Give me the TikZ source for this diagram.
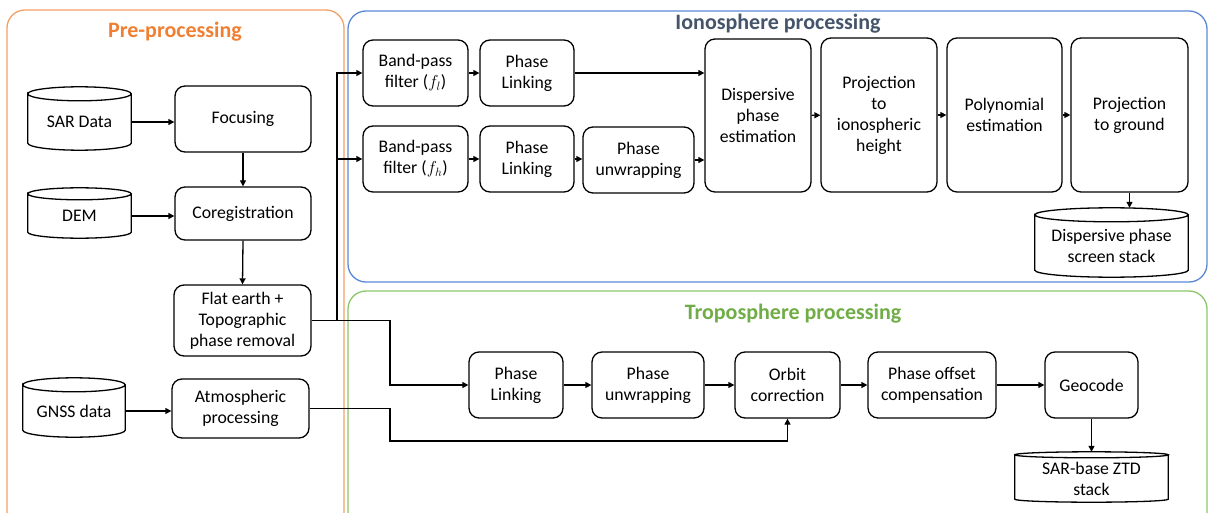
\documentclass[tikz,border=0pt]{standalone}
\usepackage{fontspec}
\setmainfont{Carlito}
\usetikzlibrary{arrows.meta,calc}

\definecolor{preorange}{HTML}{F07F34}
\definecolor{preborder}{HTML}{F4A066}
\definecolor{ionotitle}{HTML}{44546A}
\definecolor{ionoborder}{HTML}{5B88D4}
\definecolor{tropotitle}{HTML}{70AD47}
\definecolor{tropoborder}{HTML}{8CC66C}

% cylinder outline around a node whose north anchor is the centre of the top ellipse
\newcommand\drum[2]{%
  \draw[drumline] let \p1=(#1.north west), \p2=(#1.south east), \n1={(\x2-\x1)/2} in
    (\x1,\y1) arc[start angle=180, end angle=-180, x radius=\n1, y radius=#2pt]
    -- (\x1,\y2+#2pt) arc[start angle=180, end angle=360, x radius=\n1, y radius=#2pt]
    -- (\x2,\y1);}

\begin{document}
\begin{tikzpicture}[x=1pt,y=-1pt,
  txt/.style={font=\fontsize{17.7}{21}\selectfont, align=center},
  box/.style={txt, draw, line width=1.3pt, rounded corners=10pt, inner sep=2pt},
  drumtext/.style={txt, inner sep=0pt},
  drumline/.style={line width=1.3pt},
  arr/.style={line width=1.3pt, -{Triangle[length=6pt,width=6pt]}},
  group/.style={line width=1.3pt, rounded corners=18pt},
  title/.style={font=\fontsize{22}{26}\selectfont\bfseries}]

\useasboundingbox (0,0) rectangle (1209,513);

% ---- group frames ----
\begin{scope}
  \clip (0,0) rectangle (1209,513);
  \draw[group, preborder] (7,10) rectangle (344,530);
  \draw[group, ionoborder] (348,11) rectangle (1207,282);
  \draw[group, tropoborder] (348,291) rectangle (1207,530);
\end{scope}

\node[title, text=preorange] (tpre) at (175,32) {Pre-processing};
\node[title, text=ionotitle] (tiono) at (778,24) {Ionosphere processing};
\node[title, text=tropotitle] (ttropo) at (793,314) {Troposphere processing};

% ---- pre-processing ----
\node[drumtext, minimum width=103pt, minimum height=56pt] (sar) at (79.5,122) {SAR Data};
\drum{sar}{7}
\node[drumtext, minimum width=103pt, minimum height=44pt] (dem) at (79.5,216) {DEM};
\drum{dem}{6}
\node[drumtext, minimum width=102pt, minimum height=52pt] (gnss) at (74,411) {GNSS data};
\drum{gnss}{7}

\node[box, minimum width=136pt, minimum height=66pt] (focus) at (243,119) {Focusing};
\node[box, minimum width=136pt, minimum height=53pt] (coreg) at (243,213.5) {Coregistration};
\node[box, minimum width=137pt, minimum height=71pt] (flat) at (242.5,320.5) {Flat earth +\\Topographic\\phase removal};
\node[box, minimum width=137pt, minimum height=59pt] (atmo) at (240.5,408.5) {Atmospheric\\processing};

% ---- ionosphere ----
\node[box, minimum width=105pt, minimum height=66pt] (bpl) at (415.5,73) {Band-pass\\filter ($f_l$)};
\node[box, minimum width=94pt, minimum height=66pt] (ipl1) at (527,73) {Phase\\Linking};
\node[box, minimum width=105pt, minimum height=66pt] (bph) at (415.5,159) {Band-pass\\filter ($f_h$)};
\node[box, minimum width=94pt, minimum height=66pt] (ipl2) at (527,159) {Phase\\Linking};
\node[box, minimum width=111pt, minimum height=66pt] (unw) at (638.5,160) {Phase\\unwrapping};
\node[box, minimum width=106pt, minimum height=153pt] (dpe) at (758,115.5) {Dispersive\\phase\\estimation};
\node[box, minimum width=116pt, minimum height=154pt] (proj) at (879,115) {Projection\\to\\ionospheric\\height};
\node[box, minimum width=115pt, minimum height=154pt] (poly) at (1004.5,115) {Polynomial\\estimation};
\node[box, minimum width=117pt, minimum height=154pt] (pg) at (1129.5,115) {Projection\\to ground};
\node[drumtext, minimum width=153pt, minimum height=62pt] (stack) at (1111.5,246) {Dispersive phase\\screen stack};
\drum{stack}{7}

% ---- troposphere ----
\node[box, minimum width=94pt, minimum height=66pt] (tpl) at (516,385) {Phase\\Linking};
\node[box, minimum width=112pt, minimum height=66pt] (tunw) at (648,385) {Phase\\unwrapping};
\node[box, minimum width=105pt, minimum height=66pt] (orbit) at (787.5,385) {Orbit\\correction};
\node[box, minimum width=128pt, minimum height=66pt] (offset) at (932,385) {Phase offset\\compensation};
\node[box, minimum width=93pt, minimum height=66pt] (geo) at (1091.5,385) {Geocode};
\node[drumtext, minimum width=153pt, minimum height=47pt] (ztd) at (1091.5,478.5) {SAR-base ZTD\\stack};
\drum{ztd}{3}

% ---- routing points ----
\coordinate (split) at (337,320.5);
\coordinate (bend1) at (390,320.5);
\coordinate (bend2) at (390,408.5);
\coordinate (loop) at (787.5,441);

% ---- connectors ----
\draw[arr] (sar.east) -- (focus.west |- sar.east);
\draw[arr] (focus.south) -- (coreg.north);
\draw[arr] (dem.east) -- (coreg.west |- dem.east);
\draw[arr] (coreg.south) -- (flat.north);
\draw[arr] (gnss.east) -- (atmo.west |- gnss.east);

\draw[arr] (flat.east) -- (bend1) |- (tpl.west);
\draw[arr] (split) |- (bpl.west);
\draw[arr] (split) |- (bph.west);
\draw[arr] (atmo.east) -- (bend2) |- (loop) -- (orbit.south);

\draw[arr] (bpl) -- (ipl1);
\draw[arr] (ipl1.east) -- (ipl1.east -| dpe.west);
\draw[arr] (bph) -- (ipl2);
\draw[arr] (ipl2.east) -- (ipl2.east -| unw.west);
\draw[arr] (unw.east) -- (unw.east -| dpe.west);
\draw[arr] (dpe) -- (proj);
\draw[arr] (proj) -- (poly);
\draw[arr] (poly) -- (pg);
\draw[arr] (pg.south) -- ([yshift=7pt]pg.south |- stack.north);

\draw[arr] (tpl) -- (tunw);
\draw[arr] (tunw) -- (orbit);
\draw[arr] (orbit) -- (offset);
\draw[arr] (offset) -- (geo);
\draw[arr] (geo.south) -- ([yshift=3pt]geo.south |- ztd.north);

\end{tikzpicture}
\end{document}
